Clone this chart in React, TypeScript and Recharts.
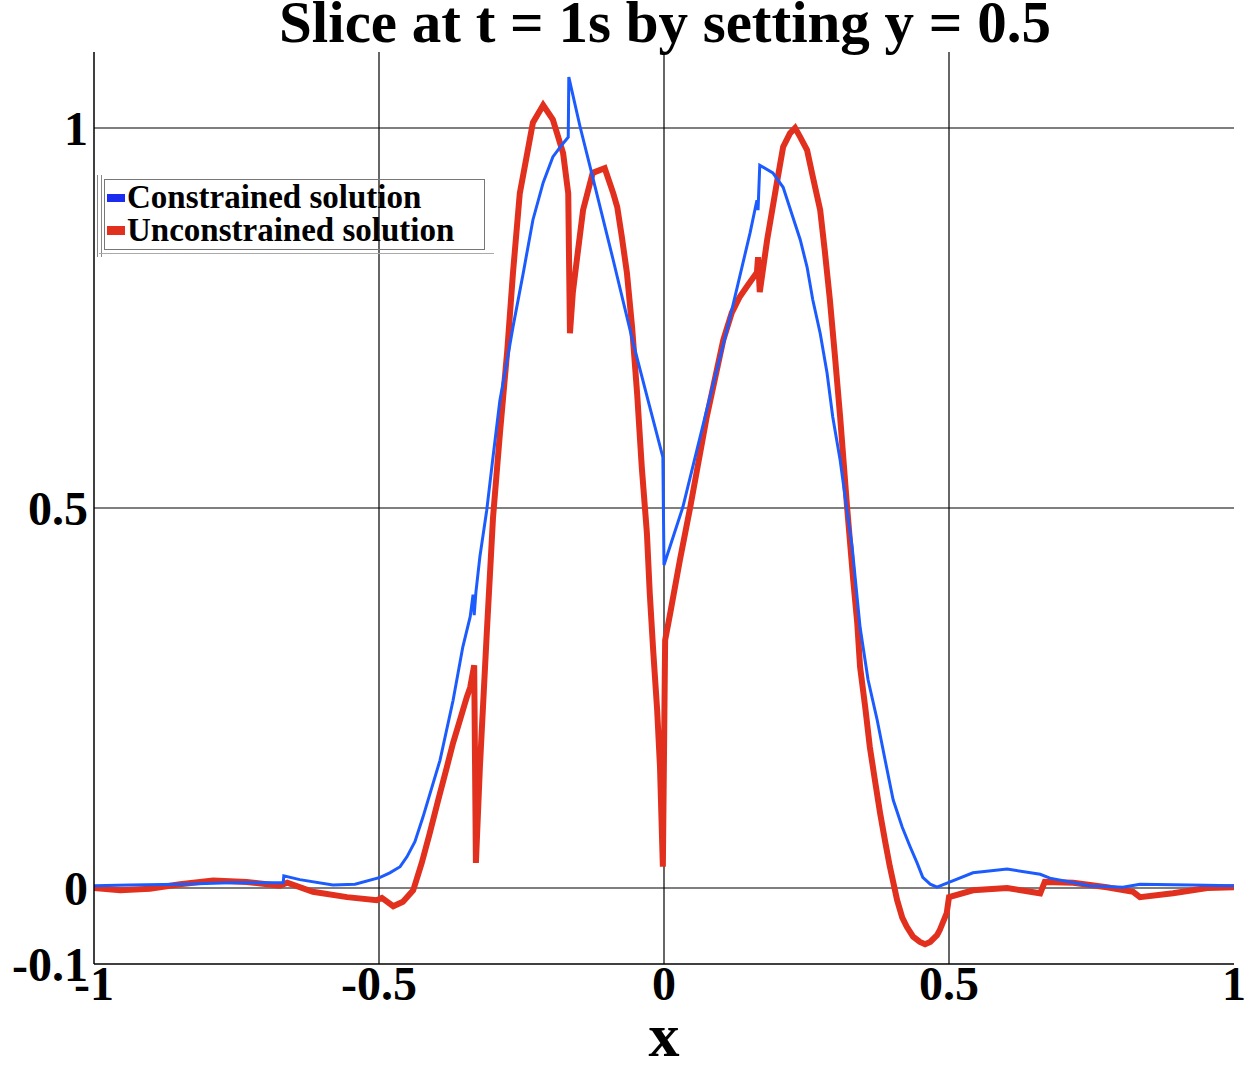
import React from "react";
import { Line, LineChart, ReferenceLine, XAxis, YAxis } from "recharts";

// values
const constrainedX = [
  -1.0, -0.937, -0.849, -0.761, -0.668, -0.667, -0.639, -0.581, -0.542, -0.498,
  -0.481, -0.463, -0.451, -0.437, -0.423, -0.393, -0.37, -0.353, -0.34, -0.335,
  -0.333, -0.33, -0.323, -0.311, -0.3, -0.288, -0.275, -0.265, -0.247, -0.23,
  -0.212, -0.195, -0.179, -0.168, -0.167, -0.147, -0.125, -0.089, -0.054, -0.025,
  -0.002, 0.0, 0.033, 0.075, 0.116, 0.151, 0.163, 0.165, 0.168, 0.191,
  0.209, 0.226, 0.239, 0.251, 0.261, 0.274, 0.286, 0.296, 0.309, 0.321,
  0.33, 0.344, 0.358, 0.374, 0.388, 0.402, 0.418, 0.432, 0.444, 0.454,
  0.467, 0.479, 0.502, 0.542, 0.602, 0.66, 0.677, 0.747, 0.805, 0.835,
  0.923, 1.0,
];
const constrainedY = [
  0.003, 0.004, 0.005, 0.007, 0.007, 0.016, 0.011, 0.004, 0.005, 0.014,
  0.02, 0.028, 0.041, 0.061, 0.093, 0.168, 0.247, 0.317, 0.357, 0.386,
  0.359, 0.389, 0.436, 0.497, 0.567, 0.641, 0.695, 0.738, 0.809, 0.879,
  0.928, 0.962, 0.978, 0.988, 1.067, 1.001, 0.935, 0.826, 0.717, 0.633,
  0.567, 0.425, 0.501, 0.629, 0.751, 0.862, 0.905, 0.892, 0.951, 0.941,
  0.922, 0.883, 0.853, 0.817, 0.774, 0.73, 0.678, 0.62, 0.563, 0.497,
  0.449, 0.343, 0.274, 0.221, 0.168, 0.116, 0.08, 0.054, 0.033, 0.014,
  0.005, 0.001, 0.008, 0.02, 0.025, 0.018, 0.013, 0.003, 0.001, 0.005,
  0.004, 0.003,
];

const unconstrainedX = [
  -1.0, -0.954, -0.902, -0.849, -0.791, -0.732, -0.674, -0.661, -0.616, -0.556,
  -0.504, -0.495, -0.475, -0.458, -0.44, -0.425, -0.411, -0.396, -0.381, -0.37,
  -0.358, -0.346, -0.34, -0.333, -0.33, -0.323, -0.311, -0.3, -0.288, -0.275,
  -0.265, -0.253, -0.23, -0.212, -0.195, -0.177, -0.168, -0.165, -0.16, -0.153,
  -0.142, -0.133, -0.125, -0.104, -0.089, -0.082, -0.074, -0.065, -0.056, -0.047,
  -0.039, -0.03, -0.025, -0.019, -0.012, -0.007, -0.002, 0.002, 0.011, 0.028,
  0.046, 0.075, 0.104, 0.119, 0.133, 0.147, 0.163, 0.165, 0.168, 0.181,
  0.198, 0.209, 0.221, 0.23, 0.239, 0.251, 0.261, 0.274, 0.282, 0.291,
  0.3, 0.309, 0.321, 0.332, 0.339, 0.344, 0.353, 0.361, 0.37, 0.379,
  0.388, 0.396, 0.409, 0.418, 0.426, 0.437, 0.449, 0.458, 0.467, 0.479,
  0.484, 0.496, 0.5, 0.542, 0.602, 0.66, 0.668, 0.718, 0.777, 0.823,
  0.835, 0.893, 0.953, 1.0,
];
const unconstrainedY = [
  0.0, -0.003, -0.001, 0.005, 0.01, 0.008, 0.003, 0.007, -0.005, -0.012,
  -0.016, -0.013, -0.024, -0.018, -0.003, 0.033, 0.072, 0.116, 0.159, 0.191,
  0.221, 0.251, 0.264, 0.293, 0.033, 0.159, 0.334, 0.487, 0.597, 0.707,
  0.809, 0.914, 1.007, 1.03, 1.011, 0.967, 0.914, 0.73, 0.783, 0.826,
  0.892, 0.918, 0.941, 0.947, 0.914, 0.896, 0.857, 0.809, 0.738, 0.649,
  0.554, 0.467, 0.388, 0.313, 0.234, 0.159, 0.028, 0.326, 0.362, 0.432,
  0.501, 0.62, 0.721, 0.757, 0.778, 0.793, 0.81, 0.83, 0.784, 0.853,
  0.928, 0.975, 0.993, 1.0, 0.988, 0.971, 0.936, 0.892, 0.839, 0.774,
  0.699, 0.62, 0.503, 0.405, 0.349, 0.291, 0.238, 0.186, 0.142, 0.099,
  0.061, 0.029, -0.016, -0.039, -0.051, -0.064, -0.071, -0.074, -0.071, -0.062,
  -0.055, -0.033, -0.012, -0.003, 0.0, -0.007, 0.008, 0.007, 0.001, -0.005,
  -0.012, -0.007, 0.0, 0.001,
];

const xTicks = [-1, -0.5, 0, 0.5, 1];
const yTicks = [-0.1, 0, 0.5, 1];
const xGrid = [-0.5, 0, 0.5];
const yGrid = [0, 0.5, 1];

const BLUE = "#1c5cff";
const RED = "#e2301f";
const FONT = "'Liberation Serif', serif";

const constrained = constrainedX.map((x, i) => ({ x, u: constrainedY[i] }));
const unconstrained = unconstrainedX.map((x, i) => ({ x, u: unconstrainedY[i] }));

// legend drawn as a plain overlay so it does not steal room from the plot
function SliceLegend() {
  const row = (color: string, h: number, text: string) => (
    <div style={{ display: "flex", alignItems: "center", height: 33 }}>
      <span
        style={{
          display: "inline-block",
          width: 18,
          height: h,
          background: color,
          marginRight: 2,
        }}
      />
      <span>{text}</span>
    </div>
  );
  return (
    <div style={{ position: "absolute", left: 97, top: 175, width: 400, height: 82 }}>
      <div
        style={{
          position: "absolute",
          left: 0,
          top: 0,
          width: 3,
          height: 82,
          borderLeft: "1px solid #888",
          borderRight: "1px solid #888",
        }}
      />
      <div
        style={{
          position: "absolute",
          left: 2,
          top: 78,
          width: 395,
          height: 1,
          background: "#aaa",
        }}
      />
      <div
        style={{
          position: "absolute",
          left: 7,
          top: 4,
          width: 381,
          height: 71,
          border: "1.5px solid #777",
          boxSizing: "border-box",
          padding: "1px 0 0 2px",
          fontFamily: FONT,
          fontWeight: 700,
          fontSize: 33,
          lineHeight: "33px",
          color: "#000",
        }}
      >
        {row("#1b2cf0", 8, "Constrained solution")}
        {row(RED, 9, "Unconstrained solution")}
      </div>
    </div>
  );
}

export default function App() {
  return (
    <div style={{ position: "relative", width: 1246, height: 1068, background: "#fff" }}>
      <style>{"body{margin:0;background:#fff}"}</style>
      <LineChart
        width={1246}
        height={1068}
        margin={{ top: 52, right: 12, bottom: 0, left: 0 }}
      >
        <XAxis
          dataKey="x"
          type="number"
          domain={[-1, 1]}
          ticks={xTicks}
          allowDataOverflow
          height={104}
          tickLine={false}
          tickSize={0}
          tickMargin={2}
          axisLine={{ stroke: "#000", strokeWidth: 1.5 }}
          tick={{ fill: "#000", fontSize: 48, fontWeight: 700, fontFamily: FONT }}
          interval={0}
          label={{
            value: "x",
            position: "insideBottom",
            offset: 12,
            fill: "#000",
            fontSize: 62,
            fontWeight: 700,
            fontFamily: FONT,
          }}
        />
        <YAxis
          dataKey="u"
          type="number"
          domain={[-0.1, 1.1]}
          ticks={yTicks}
          allowDataOverflow
          width={94}
          tickLine={false}
          tickSize={0}
          tickMargin={6}
          axisLine={{ stroke: "#000", strokeWidth: 1.5 }}
          tick={{ fill: "#000", fontSize: 48, fontWeight: 700, fontFamily: FONT }}
          interval={0}
        />
        {xGrid.map((v) => (
          <ReferenceLine key={"vx" + v} x={v} stroke="#000" strokeWidth={1.2} />
        ))}
        {yGrid.map((v) => (
          <ReferenceLine key={"hy" + v} y={v} stroke="#000" strokeWidth={1.2} />
        ))}
        <Line
          data={unconstrained}
          dataKey="u"
          name="Unconstrained solution"
          type="linear"
          stroke={RED}
          strokeWidth={6}
          dot={false}
          activeDot={false}
          isAnimationActive={false}
        />
        <Line
          data={constrained}
          dataKey="u"
          name="Constrained solution"
          type="linear"
          stroke={BLUE}
          strokeWidth={3}
          dot={false}
          activeDot={false}
          isAnimationActive={false}
        />
      </LineChart>
      <div
        style={{
          position: "absolute",
          left: 0,
          top: 0,
          width: 1246,
          paddingLeft: 84,
          boxSizing: "border-box",
          textAlign: "center",
          fontFamily: FONT,
          fontWeight: 700,
          fontSize: 59,
          lineHeight: "44px",
          color: "#000",
          whiteSpace: "nowrap",
        }}
      >
        Slice at t = 1s by setting y = 0.5
      </div>
      <SliceLegend />
    </div>
  );
}
